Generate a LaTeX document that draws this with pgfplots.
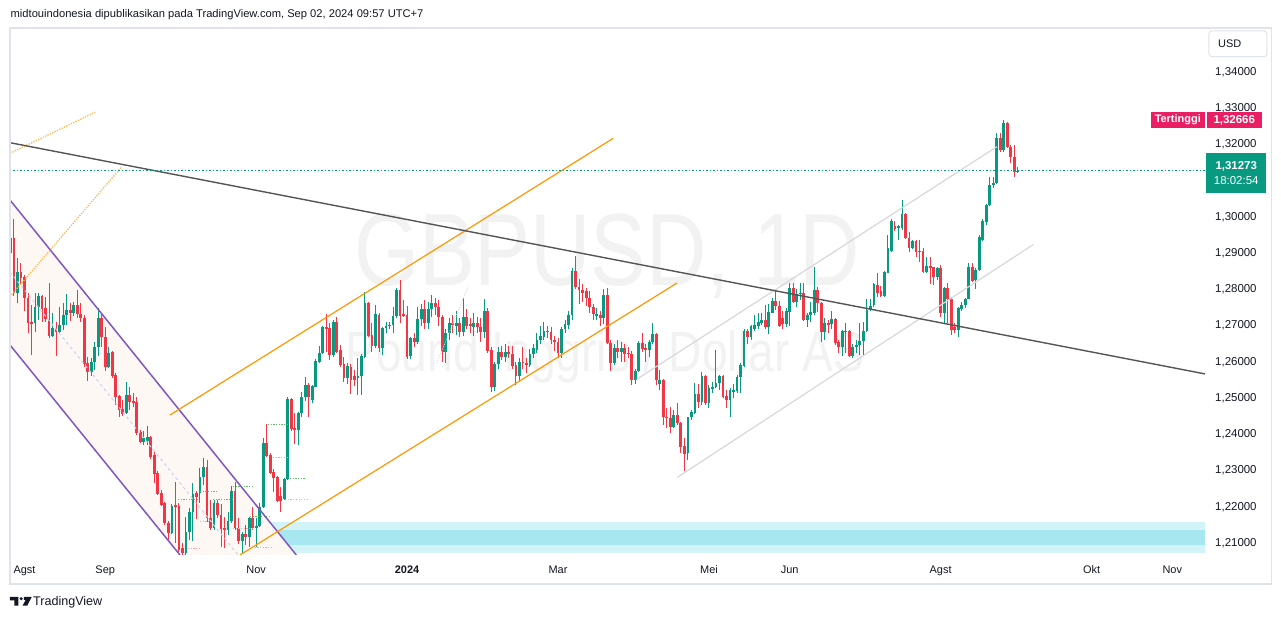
\documentclass[border=0pt]{standalone}
\usepackage{fontspec}
\setmainfont{Liberation Sans}
\usepackage{graphicx}
\usepackage{pgfplots}
\usepackage{pgfplotstable}
\pgfplotsset{compat=1.18}
\pgfdeclarelayer{background}
\pgfsetlayers{background,main}

\definecolor{tvgreen}{HTML}{089981}
\definecolor{tvred}{HTML}{F23645}
\definecolor{tvpink}{HTML}{E91E63}
\definecolor{tvtext}{HTML}{131722}
\definecolor{tvframe}{HTML}{E0E3EB}
\definecolor{purp}{HTML}{7E57C2}
\definecolor{orng}{HTML}{FF9800}
\definecolor{orngl}{HTML}{FFB74D}
\definecolor{trend}{HTML}{555555}
\definecolor{chgray}{HTML}{D6D8DE}
\definecolor{zone}{HTML}{D2F4F8}
\definecolor{zonein}{HTML}{A6E7F0}
\definecolor{chfill}{HTML}{FEF8F5}
\definecolor{midl}{HTML}{C5D3F3}
\definecolor{wm}{HTML}{F2F2F2}
\definecolor{dotg}{HTML}{66BB6A}
\definecolor{dotr}{HTML}{F7A1AE}

% daily candles GBPUSD, i = trading day (0 = 1 Aug 2023)
\pgfplotstableread{
i o h l c
-4 1.2900 1.2958 1.2876 1.2942
-3 1.2942 1.2994 1.2782 1.2790
-2 1.2790 1.2887 1.2762 1.2848
-1 1.2848 1.2872 1.2812 1.2831
0 1.2834 1.2840 1.2740 1.2776
1 1.2776 1.2790 1.2680 1.2707
2 1.2710 1.2757 1.2619 1.2707
3 1.2707 1.2790 1.2682 1.2751
4 1.2751 1.2790 1.2716 1.2782
5 1.2782 1.2784 1.2710 1.2746
6 1.2749 1.2779 1.2710 1.2718
7 1.2718 1.2818 1.2666 1.2671
8 1.2671 1.2735 1.2668 1.2693
9 1.2693 1.2710 1.2616 1.2682
10 1.2682 1.2751 1.2677 1.2702
11 1.2702 1.2762 1.2688 1.2729
12 1.2729 1.2787 1.2702 1.2743
13 1.2743 1.2762 1.2713 1.2735
14 1.2735 1.2765 1.2727 1.2757
15 1.2757 1.2798 1.2721 1.2732
16 1.2732 1.2762 1.2710 1.2721
17 1.2721 1.2729 1.2586 1.2594
18 1.2597 1.2613 1.2547 1.2572
19 1.2572 1.2610 1.2561 1.2599
20 1.2599 1.2655 1.2577 1.2641
21 1.2641 1.2749 1.2616 1.2721
22 1.2721 1.2735 1.2641 1.2669
23 1.2669 1.2696 1.2575 1.2586
24 1.2586 1.2641 1.2583 1.2624
25 1.2627 1.2630 1.2555 1.2561
26 1.2564 1.2569 1.2481 1.2503
27 1.2506 1.2508 1.2448 1.2467
28 1.2470 1.2495 1.2451 1.2456
29 1.2459 1.2544 1.2456 1.2508
30 1.2508 1.2530 1.2467 1.2489
31 1.2492 1.2514 1.2475 1.2486
32 1.2489 1.2503 1.2397 1.2403
33 1.2406 1.2412 1.2376 1.2379
34 1.2379 1.2409 1.2371 1.2390
35 1.2381 1.2423 1.2370 1.2392
36 1.2392 1.2395 1.2332 1.2337
37 1.2342 1.2350 1.2266 1.2291
38 1.2294 1.2299 1.2233 1.2236
39 1.2239 1.2247 1.2202 1.2205
40 1.2211 1.2213 1.2150 1.2155
41 1.2155 1.2161 1.2106 1.2128
42 1.2128 1.2208 1.2126 1.2202
43 1.2205 1.2268 1.2100 1.2200
44 1.2202 1.2210 1.2075 1.2081
45 1.2086 1.2100 1.2037 1.2072
46 1.2072 1.2173 1.2050 1.2130
47 1.2130 1.2196 1.2108 1.2185
48 1.2185 1.2266 1.2106 1.2235
49 1.2237 1.2245 1.2165 1.2228
50 1.2238 1.2307 1.2210 1.2282
51 1.2282 1.2334 1.2260 1.2310
52 1.2310 1.2329 1.2158 1.2169
53 1.2169 1.2219 1.2136 1.2141
54 1.2141 1.2219 1.2136 1.2210
55 1.2210 1.2219 1.2169 1.2177
56 1.2177 1.2208 1.2089 1.2138
57 1.2141 1.2171 1.2086 1.2136
58 1.2136 1.2185 1.2122 1.2160
59 1.2160 1.2257 1.2155 1.2243
60 1.2243 1.2268 1.2136 1.2141
61 1.2141 1.2169 1.2097 1.2106
62 1.2106 1.2130 1.2072 1.2125
63 1.2125 1.2150 1.2094 1.2117
64 1.2117 1.2171 1.2089 1.2169
65 1.2169 1.2199 1.2136 1.2141
66 1.2141 1.2169 1.2089 1.2147
67 1.2147 1.2210 1.2144 1.2199
68 1.2199 1.2390 1.2196 1.2376
69 1.2376 1.2428 1.2337 1.2340
70 1.2343 1.2348 1.2290 1.2293
71 1.2296 1.2304 1.2240 1.2279
72 1.2282 1.2285 1.2213 1.2216
73 1.2230 1.2254 1.2185 1.2216
74 1.2221 1.2279 1.2219 1.2276
75 1.2276 1.2503 1.2274 1.2497
76 1.2497 1.2500 1.2409 1.2414
77 1.2417 1.2459 1.2373 1.2412
78 1.2412 1.2462 1.2370 1.2459
79 1.2459 1.2517 1.2448 1.2503
80 1.2503 1.2558 1.2492 1.2536
81 1.2536 1.2541 1.2448 1.2503
82 1.2495 1.2536 1.2486 1.2533
83 1.2530 1.2608 1.2530 1.2602
84 1.2600 1.2644 1.2597 1.2624
85 1.2624 1.2699 1.2622 1.2696
86 1.2696 1.2732 1.2627 1.2693
87 1.2693 1.2707 1.2605 1.2619
88 1.2619 1.2716 1.2613 1.2710
89 1.2710 1.2724 1.2624 1.2627
90 1.2633 1.2647 1.2586 1.2591
91 1.2594 1.2613 1.2544 1.2555
92 1.2555 1.2596 1.2540 1.2588
93 1.2585 1.2594 1.2511 1.2550
94 1.2561 1.2577 1.2533 1.2550
95 1.2555 1.2610 1.2508 1.2561
96 1.2561 1.2622 1.2508 1.2616
97 1.2613 1.2792 1.2610 1.2762
98 1.2762 1.2765 1.2668 1.2671
99 1.2674 1.2707 1.2627 1.2644
100 1.2644 1.2757 1.2638 1.2732
101 1.2729 1.2735 1.2627 1.2638
102 1.2638 1.2696 1.2619 1.2693
103 1.2693 1.2710 1.2680 1.2699
104 1.2699 1.2710 1.2692 1.2703
105 1.2703 1.2751 1.2680 1.2727
106 1.2727 1.2804 1.2721 1.2798
107 1.2798 1.2826 1.2707 1.2727
108 1.2732 1.2771 1.2724 1.2729
109 1.2729 1.2754 1.2608 1.2613
110 1.2615 1.2670 1.2608 1.2665
111 1.2665 1.2680 1.2640 1.2655
112 1.2655 1.2751 1.2650 1.2717
113 1.2717 1.2760 1.2700 1.2747
114 1.2747 1.2770 1.2690 1.2706
115 1.2706 1.2765 1.2690 1.2747
116 1.2747 1.2785 1.2725 1.2763
117 1.2763 1.2775 1.2730 1.2752
118 1.2752 1.2770 1.2700 1.2725
119 1.2725 1.2730 1.2600 1.2628
120 1.2628 1.2690 1.2597 1.2679
121 1.2679 1.2720 1.2660 1.2706
122 1.2706 1.2730 1.2680 1.2702
123 1.2700 1.2740 1.2675 1.2706
124 1.2706 1.2720 1.2670 1.2683
125 1.2683 1.2775 1.2670 1.2723
126 1.2723 1.2745 1.2690 1.2699
127 1.2705 1.2720 1.2680 1.2699
128 1.2695 1.2735 1.2670 1.2706
129 1.2706 1.2725 1.2680 1.2697
130 1.2697 1.2720 1.2655 1.2683
131 1.2683 1.2773 1.2665 1.2741
132 1.2741 1.2750 1.2625 1.2631
133 1.2633 1.2640 1.2518 1.2531
134 1.2531 1.2600 1.2520 1.2594
135 1.2594 1.2640 1.2580 1.2628
136 1.2628 1.2645 1.2605 1.2613
137 1.2613 1.2650 1.2600 1.2628
138 1.2628 1.2645 1.2610 1.2622
139 1.2622 1.2645 1.2580 1.2589
140 1.2591 1.2600 1.2535 1.2561
141 1.2561 1.2610 1.2545 1.2601
142 1.2601 1.2640 1.2580 1.2596
143 1.2598 1.2610 1.2570 1.2591
144 1.2591 1.2635 1.2585 1.2622
145 1.2622 1.2650 1.2610 1.2637
146 1.2633 1.2680 1.2625 1.2660
147 1.2660 1.2700 1.2650 1.2671
148 1.2668 1.2710 1.2660 1.2686
149 1.2686 1.2700 1.2665 1.2683
150 1.2683 1.2695 1.2650 1.2660
151 1.2660 1.2670 1.2630 1.2656
152 1.2656 1.2665 1.2610 1.2624
153 1.2624 1.2695 1.2610 1.2690
154 1.2690 1.2715 1.2680 1.2704
155 1.2702 1.2740 1.2690 1.2729
156 1.2729 1.2860 1.2715 1.2850
157 1.2850 1.2892 1.2800 1.2807
158 1.2807 1.2830 1.2760 1.2798
159 1.2798 1.2815 1.2765 1.2791
160 1.2795 1.2805 1.2755 1.2775
161 1.2775 1.2795 1.2735 1.2752
162 1.2752 1.2760 1.2715 1.2732
163 1.2728 1.2750 1.2715 1.2732
164 1.2729 1.2740 1.2700 1.2720
165 1.2720 1.2800 1.2705 1.2785
166 1.2785 1.2803 1.2650 1.2653
167 1.2653 1.2660 1.2575 1.2598
168 1.2598 1.2650 1.2590 1.2637
169 1.2637 1.2660 1.2610 1.2628
170 1.2628 1.2655 1.2600 1.2637
171 1.2637 1.2650 1.2600 1.2622
172 1.2625 1.2640 1.2610 1.2622
173 1.2622 1.2630 1.2536 1.2550
174 1.2550 1.2580 1.2539 1.2576
175 1.2576 1.2657 1.2573 1.2653
176 1.2651 1.2680 1.2628 1.2635
177 1.2637 1.2650 1.2600 1.2633
178 1.2633 1.2660 1.2614 1.2656
179 1.2656 1.2706 1.2650 1.2677
180 1.2677 1.2680 1.2536 1.2550
181 1.2540 1.2577 1.2522 1.2550
182 1.2550 1.2552 1.2426 1.2449
183 1.2449 1.2472 1.2417 1.2444
184 1.2444 1.2475 1.2405 1.2421
185 1.2421 1.2467 1.2417 1.2453
186 1.2453 1.2486 1.2426 1.2432
187 1.2432 1.2435 1.2348 1.2366
188 1.2368 1.2389 1.2299 1.2346
189 1.2348 1.2449 1.2329 1.2447
190 1.2447 1.2467 1.2440 1.2462
191 1.2458 1.2541 1.2456 1.2511
192 1.2511 1.2540 1.2472 1.2490
193 1.2490 1.2573 1.2481 1.2561
194 1.2561 1.2565 1.2481 1.2486
195 1.2486 1.2536 1.2472 1.2527
196 1.2527 1.2545 1.2515 1.2531
197 1.2531 1.2634 1.2527 1.2542
198 1.2541 1.2564 1.2522 1.2561
199 1.2561 1.2564 1.2499 1.2504
200 1.2506 1.2522 1.2472 1.2495
201 1.2495 1.2527 1.2449 1.2522
202 1.2518 1.2540 1.2500 1.2522
203 1.2520 1.2564 1.2515 1.2559
204 1.2557 1.2596 1.2515 1.2591
205 1.2589 1.2690 1.2587 1.2686
206 1.2686 1.2690 1.2650 1.2668
207 1.2668 1.2702 1.2660 1.2699
208 1.2690 1.2730 1.2686 1.2702
209 1.2699 1.2734 1.2690 1.2711
210 1.2706 1.2734 1.2702 1.2716
211 1.2716 1.2757 1.2690 1.2695
212 1.2695 1.2760 1.2676 1.2738
213 1.2736 1.2775 1.2734 1.2768
214 1.2768 1.2798 1.2744 1.2754
215 1.2754 1.2768 1.2695 1.2699
216 1.2720 1.2740 1.2690 1.2705
217 1.2705 1.2748 1.2695 1.2741
218 1.2738 1.2818 1.2699 1.2805
219 1.2805 1.2818 1.2762 1.2766
220 1.2766 1.2800 1.2752 1.2787
221 1.2787 1.2818 1.2770 1.2791
222 1.2791 1.2818 1.2712 1.2716
223 1.2716 1.2734 1.2695 1.2729
224 1.2729 1.2766 1.2711 1.2738
225 1.2734 1.2861 1.2729 1.2798
226 1.2798 1.2806 1.2738 1.2762
227 1.2762 1.2766 1.2656 1.2683
228 1.2683 1.2720 1.2660 1.2706
229 1.2706 1.2716 1.2680 1.2704
230 1.2704 1.2740 1.2690 1.2717
231 1.2717 1.2720 1.2647 1.2651
232 1.2656 1.2660 1.2624 1.2640
233 1.2640 1.2688 1.2616 1.2686
234 1.2683 1.2706 1.2624 1.2686
235 1.2686 1.2688 1.2614 1.2616
236 1.2616 1.2650 1.2612 1.2642
237 1.2642 1.2660 1.2624 1.2647
238 1.2647 1.2708 1.2619 1.2659
239 1.2659 1.2711 1.2619 1.2686
240 1.2686 1.2773 1.2683 1.2743
241 1.2745 1.2773 1.2741 1.2754
242 1.2757 1.2817 1.2752 1.2815
243 1.2812 1.2845 1.2780 1.2791
244 1.2795 1.2810 1.2778 1.2782
245 1.2782 1.2852 1.2780 1.2849
246 1.2846 1.2950 1.2846 1.2913
247 1.2907 1.2993 1.2904 1.2990
248 1.2975 1.2990 1.2960 1.2968
249 1.2969 1.2978 1.2936 1.2975
250 1.2969 1.3047 1.2964 1.3008
251 1.3008 1.3012 1.2938 1.2941
252 1.2941 1.2959 1.2904 1.2913
253 1.2913 1.2936 1.2911 1.2934
254 1.2934 1.2936 1.2890 1.2904
255 1.2907 1.2936 1.2876 1.2904
256 1.2907 1.2913 1.2846 1.2849
257 1.2849 1.2890 1.2846 1.2865
258 1.2863 1.2890 1.2815 1.2861
259 1.2861 1.2863 1.2812 1.2833
260 1.2833 1.2863 1.2826 1.2858
261 1.2858 1.2867 1.2725 1.2736
262 1.2736 1.2807 1.2708 1.2803
263 1.2803 1.2817 1.2708 1.2773
264 1.2773 1.2780 1.2674 1.2688
265 1.2695 1.2706 1.2679 1.2688
266 1.2688 1.2752 1.2668 1.2748
267 1.2745 1.2766 1.2741 1.2757
268 1.2757 1.2776 1.2750 1.2773
269 1.2773 1.2872 1.2773 1.2861
270 1.2861 1.2872 1.2821 1.2824
271 1.2826 1.2858 1.2800 1.2853
272 1.2853 1.2950 1.2851 1.2945
273 1.2936 1.2993 1.2934 1.2990
274 1.2987 1.3036 1.2978 1.3033
275 1.3033 1.3111 1.3030 1.3088
276 1.3088 1.3109 1.3079 1.3095
277 1.3093 1.3231 1.3091 1.3217
278 1.3217 1.3231 1.3180 1.3185
279 1.3185 1.32666 1.3180 1.3260
280 1.3260 1.3262 1.3190 1.3194
281 1.3194 1.3199 1.3148 1.3166
282 1.3165 1.3199 1.3111 1.3125
283 1.3125 1.3139 1.3120 1.31273
}\candles

\begin{document}
\begin{tikzpicture}[x=1bp,y=1bp]
\begin{axis}[
  width=1195bp, height=526bp, scale only axis,
  xmin=-4.131, xmax=336.32, ymin=1.20669, ymax=1.35187,
  clip mode=individual,
  axis line style={draw=none},
  major tick length=0pt,
  xtick={0,23,66,109,152,195,218,261,304,327},
  xticklabels={Agst,Sep,Nov,\textbf{2024},Mar,Mei,Jun,Agst,Okt,Nov},
  xticklabel style={font=\fontsize{11}{13}\selectfont, text=tvtext, anchor=base, inner sep=0pt, yshift=-19bp},
  ytick={1.21,1.22,1.23,1.24,1.25,1.26,1.27,1.28,1.29,1.30,1.31,1.32,1.33,1.34},
  yticklabel pos=right,
  scaled y ticks=false,
  yticklabel style={font=\fontsize{11.5}{13}\selectfont, text=tvtext, anchor=west, inner sep=0pt, xshift=10bp,
    /pgf/number format/.cd, fixed, fixed zerofill, precision=5, use comma, assume math mode=true},
]

% watermark
\node[anchor=base west, inner sep=0pt, text=wm, font=\fontsize{103}{110}\selectfont]
  at (axis cs:93.87,1.28121) {\scalebox{0.814}[1]{GBPUSD, 1D}};
\node[anchor=base west, inner sep=0pt, text=wm, font=\fontsize{57}{60}\selectfont]
  at (axis cs:91.31,1.25720) {\scalebox{0.814}[1]{Pound Inggris / Dollar AS}};

% demand zone
\addplot[fill=zone, draw=none] coordinates {(65.67,1.20724)(336.32,1.20724)(336.32,1.21580)(65.67,1.21580)} -- cycle;
\addplot[fill=zonein, draw=none] coordinates {(65.67,1.20944)(336.32,1.20944)(336.32,1.21359)(65.67,1.21359)} -- cycle;

% falling channel fill
\addplot[fill=chfill, draw=none] coordinates {(-4.131,1.30467)(77.44,1.20669)(44.30,1.20669)(-4.131,1.26465)} -- cycle;

% candles: wicks and bodies
\addplot[draw=none, mark=none, error bars/.cd, y dir=both, y explicit, error mark=none,
  error bar style={draw=tvgreen, line width=1bp}]
  table[x=i, y expr={\thisrow{c}>=\thisrow{o} ? (\thisrow{h}+\thisrow{l})/2 : nan},
        y error expr={(\thisrow{h}-\thisrow{l})/2}] {\candles};
\addplot[draw=none, mark=none, error bars/.cd, y dir=both, y explicit, error mark=none,
  error bar style={draw=tvred, line width=1bp}]
  table[x=i, y expr={\thisrow{c}<\thisrow{o} ? (\thisrow{h}+\thisrow{l})/2 : nan},
        y error expr={(\thisrow{h}-\thisrow{l})/2}] {\candles};
\addplot[draw=none, mark=none, error bars/.cd, y dir=both, y explicit, error mark=none,
  error bar style={draw=tvgreen, line width=2.8bp}]
  table[x=i, y expr={\thisrow{c}>=\thisrow{o} ? (\thisrow{o}+\thisrow{c})/2 : nan},
        y error expr={max(abs(\thisrow{c}-\thisrow{o})/2,0.00012)}] {\candles};
\addplot[draw=none, mark=none, error bars/.cd, y dir=both, y explicit, error mark=none,
  error bar style={draw=tvred, line width=2.8bp}]
  table[x=i, y expr={\thisrow{c}<\thisrow{o} ? (\thisrow{o}+\thisrow{c})/2 : nan},
        y error expr={max(abs(\thisrow{c}-\thisrow{o})/2,0.00012)}] {\candles};

% small dotted levels
\addplot[dotg, line width=1bp, dash pattern=on 1.2bp off 1.5bp] coordinates {(69.37,1.24284)(74.79,1.24284)};
\addplot[dotr, line width=1bp, dash pattern=on 1.2bp off 1.5bp] coordinates {(70.80,1.23373)(74.79,1.23373)};
\addplot[dotg, line width=1bp, dash pattern=on 1.2bp off 1.5bp] coordinates {(75.64,1.22794)(80.20,1.22794)};
\addplot[dotr, line width=1bp, dash pattern=on 1.2bp off 1.5bp] coordinates {(74.22,1.22214)(80.48,1.22214)};
\addplot[dotg, line width=1bp, dash pattern=on 1.2bp off 1.5bp] coordinates {(53.70,1.22187)(59.12,1.22187)};
\addplot[dotg, line width=1bp, dash pattern=on 1.2bp off 1.5bp] coordinates {(59.40,1.22573)(64.81,1.22573)};
\addplot[dotg, line width=1bp, dash pattern=on 1.2bp off 1.5bp] coordinates {(64.25,1.21745)(70.23,1.21745)};
\addplot[dotr, line width=1bp, dash pattern=on 1.2bp off 1.5bp] coordinates {(50.00,1.21607)(53.42,1.21607)};
\addplot[dotr, line width=1bp, dash pattern=on 1.2bp off 1.5bp] coordinates {(59.40,1.21414)(65.10,1.21414)};
\addplot[dotr, line width=1bp, dash pattern=on 1.2bp off 1.5bp] coordinates {(64.81,1.20889)(70.51,1.20889)};
\addplot[dotg, line width=1bp, dash pattern=on 1.2bp off 1.5bp] coordinates {(50.00,1.22408)(55.13,1.22408)};
\addplot[dotg, line width=1bp, dash pattern=on 1.2bp off 1.5bp] coordinates {(43.73,1.22187)(49.43,1.22187)};
\addplot[dotr, line width=1bp, dash pattern=on 1.2bp off 1.5bp] coordinates {(46.58,1.20862)(50.00,1.20862)};

% channel midline
\addplot[midl, line width=1bp, dash pattern=on 3bp off 3bp] coordinates {(-4.131,1.28480)(60.83,1.20669)};
% falling channel
\addplot[purp, line width=1.5bp] coordinates {(-4.131,1.30467)(77.44,1.20669)};
\addplot[purp, line width=1.5bp] coordinates {(-4.131,1.26465)(44.30,1.20669)};
% orange dotted rays
\addplot[orngl, line width=1.3bp, dash pattern=on 1.3bp off 1.3bp] coordinates {(-4.131,1.31756)(20.09,1.32888)};
\addplot[orngl, line width=1.3bp, dash pattern=on 1.3bp off 1.3bp] coordinates {(-4.131,1.27798)(27.78,1.31392)};
% rising orange channel
\addplot[orng, line width=1.2bp] coordinates {(41.45,1.24533)(167.66,1.32165)};
\addplot[orng, line width=1.2bp] coordinates {(61.40,1.20669)(185.90,1.28176)};
% light grey rising channel
\addplot[chgray, line width=1.2bp] coordinates {(186.0,1.22813)(287.4,1.29239)};
\addplot[chgray, line width=1.2bp] coordinates {(174.4,1.25518)(277.0,1.31938)};
\addplot[chgray, line width=0.8bp, dash pattern=on 1bp off 1.5bp] coordinates {(117.4,1.25960)(126.4,1.28077)};
% long down trend line
\addplot[trend, line width=1.4bp] coordinates {(-4.131,1.32049)(336.32,1.25667)};
% last price line
\addplot[tvgreen, line width=1bp, dash pattern=on 1.2bp off 2.3bp] coordinates {(-4.131,1.31273)(336.32,1.31273)};

\coordinate (hi) at (axis cs:336.32,1.32670);
\coordinate (last) at (axis cs:336.32,1.31212);
% page corners: pixel (0,619) and (1281,0)
\coordinate (BL) at (rel axis cs:-0.008368,-0.121673);
\coordinate (TR) at (rel axis cs:1.063598,1.055133);
\end{axis}

\begin{scope}[shift={(BL)}]
% frame
\draw[tvframe, line width=1.2bp] (10,35) rectangle (1271.5,591);
% currency box
\draw[tvframe, line width=1bp, rounded corners=3bp] (1209,562.3) rectangle (1267,588);
\node[anchor=west, inner sep=0pt, text=tvtext, font=\fontsize{11}{13}\selectfont] at (1218,575) {USD};
% header
\node[anchor=base west, inner sep=0pt, text=tvtext, font=\fontsize{11.2}{13}\selectfont]
  at (10.5,601) {midtouindonesia dipublikasikan pada TradingView.com, Sep 02, 2024 09:57 UTC+7};
% TradingView logo
\fill[tvtext] (10,22) -- (18.3,22) -- (18.3,13.3) -- (14.5,13.3) -- (14.5,18.7) -- (10,18.7) -- cycle;
\fill[tvtext] (21.2,20.3) circle (1.7);
\fill[tvtext] (24,22) -- (31.7,22) -- (27.2,13.3) -- (22.6,13.3) -- (25.6,19) -- (24,19) -- cycle;
\node[anchor=base west, inner sep=0pt, text=tvtext, font=\fontsize{12.6}{14}\selectfont]
  at (33,13) {TradingView};
\end{scope}

% labels on the price scale
\node[fill=tvpink, text=white, anchor=east, minimum height=16bp, inner xsep=4bp, inner ysep=0pt,
  font=\fontsize{11}{13}\selectfont\bfseries] at (hi) {Tertinggi};
\node[fill=tvpink, text=white, anchor=west, minimum height=16bp, minimum width=55bp, inner sep=0pt,
  font=\fontsize{11.5}{13}\selectfont\bfseries] at ([xshift=1.5bp]hi) {1,32666};
\node[fill=tvgreen, text=white, anchor=west, minimum height=40bp, minimum width=60bp, inner sep=0pt,
  align=center, font=\fontsize{11.5}{15}\selectfont] at ([xshift=1bp]last) {\textbf{1,31273}\\18:02:54};

\begin{pgfonlayer}{background}
\fill[white] (BL) rectangle (TR);
\end{pgfonlayer}
\pgfresetboundingbox
\path[use as bounding box] (BL) rectangle (TR);
\end{tikzpicture}
\end{document}
